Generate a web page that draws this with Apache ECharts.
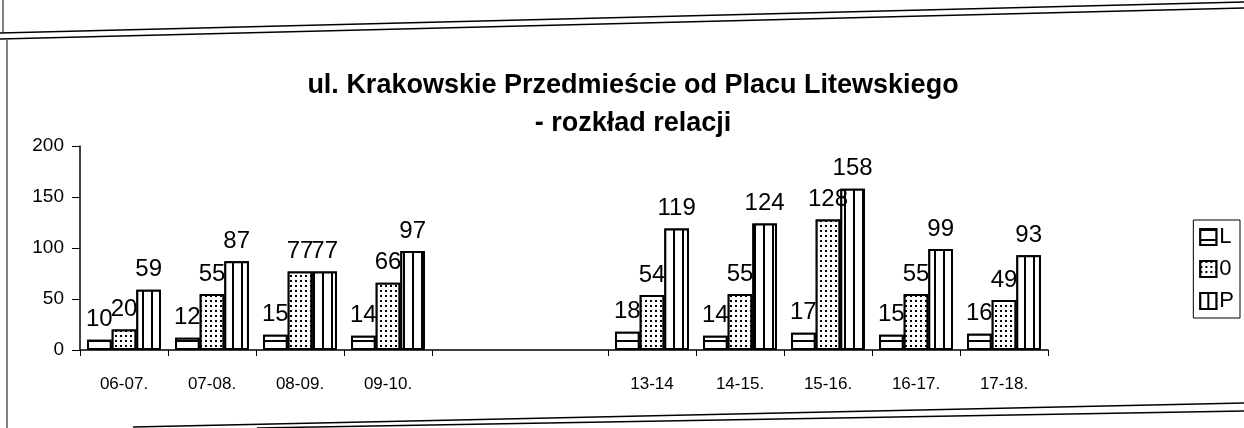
<!DOCTYPE html>
<html lang="pl">
<head>
    <meta charset="UTF-8">
    <title>ul. Krakowskie Przedmieście - rozkład relacji</title>
    <script src="https://cdn.jsdelivr.net/npm/echarts@6/dist/echarts.min.js"></script>
    <style>
        html, body { margin: 0; padding: 0; background: #fff; }
        #main { width: 1244px; height: 428px; }
    </style>
</head>
<body>
<div id="main"></div>
<script>
    // godziny (dwie puste kategorie = przerwa w pomiarach)
    var godziny = ['06-07.', '07-08.', '08-09.', '09-10.', '', '', '13-14', '14-15.', '15-16.', '16-17.', '17-18.'];
    var seriaL = [10, 12, 15, 14, null, null, 18, 14, 17, 15, 16];
    var seria0 = [20, 55, 77, 66, null, null, 54, 55, 128, 55, 49];
    var seriaP = [59, 87, 77, 97, null, null, 119, 124, 158, 99, 93];
    var osY = [0, 50, 100, 150, 200];

    var czcionka = '"Liberation Sans", Arial, sans-serif';

    // wzory wypełnienia słupków
    var wzorL = { symbol: 'rect', symbolSize: 1, color: '#000', backgroundColor: '#fff',
        dashArrayX: [[1, 0]], dashArrayY: [2, 8], rotation: 0 };
    var wzor0 = { symbol: 'rect', symbolSize: 1, color: '#000', backgroundColor: '#fff',
        dashArrayX: [2, 3], dashArrayY: [2, 3], rotation: 0 };
    var wzorP = { symbol: 'rect', symbolSize: 1, color: '#000', backgroundColor: '#fff',
        dashArrayX: [[1, 0]], dashArrayY: [2, 7], rotation: Math.PI / 2 };

    function seria(nazwa, dane, wzor) {
        return {
            name: nazwa,
            type: 'bar',
            data: dane,
            barGap: '0%',
            barCategoryGap: '16%',
            itemStyle: { color: '#fff', borderColor: '#000', borderWidth: 2, decal: wzor },
            label: {
                show: true, position: 'top', distance: 8,
                color: '#000', fontSize: 24, fontFamily: czcionka
            }
        };
    }

    var myChart = echarts.init(document.getElementById('main'));
    var option = {
        backgroundColor: '#fff',
        animation: false,
        title: {
            text: 'ul. Krakowskie Przedmieście od Placu Litewskiego\n- rozkład relacji',
            left: 628,
            textAlign: 'center',
            top: 62,
            textStyle: { fontFamily: czcionka, fontWeight: 'bold', fontSize: 27, color: '#000', lineHeight: 38 }
        },
        legend: {
            orient: 'vertical',
            right: 4,
            top: 220,
            icon: 'rect',
            itemWidth: 16,
            itemHeight: 16,
            itemGap: 10,
            padding: [6, 6, 6, 6],
            borderColor: '#000',
            borderWidth: 1,
            textStyle: { fontFamily: czcionka, fontSize: 22, color: '#000', padding: [0, 0, 0, -2] },
            data: ['L', '0', 'P']
        },
        grid: { left: 80, right: 196, top: 146, bottom: 78 },
        xAxis: {
            type: 'category',
            data: godziny,
            axisLine: { lineStyle: { color: '#000', width: 1.5 } },
            axisTick: {
                show: true, length: 6, inside: false, lineStyle: { color: '#000' },
                interval: function (i) { return i !== 5; }
            },
            axisLabel: { color: '#000', fontSize: 17, fontFamily: czcionka, margin: 26, interval: 0 }
        },
        yAxis: {
            type: 'value',
            min: osY[0],
            max: osY[osY.length - 1],
            interval: 50,
            axisLine: { show: true, lineStyle: { color: '#000', width: 1.5 } },
            axisTick: { show: true, length: 8, lineStyle: { color: '#000' } },
            axisLabel: { color: '#000', fontSize: 19, fontFamily: czcionka, margin: 16 },
            splitLine: { show: false }
        },
        graphic: [
            { type: 'line', shape: { x1: 3, y1: 0, x2: 3, y2: 33 }, style: { stroke: '#000', lineWidth: 1 } },
            { type: 'line', shape: { x1: 0, y1: 33, x2: 1244, y2: 2 }, style: { stroke: '#000', lineWidth: 1.5 } },
            { type: 'line', shape: { x1: 0, y1: 39, x2: 1244, y2: 8 }, style: { stroke: '#000', lineWidth: 1.5 } },
            { type: 'line', shape: { x1: 7, y1: 40, x2: 7, y2: 428 }, style: { stroke: '#000', lineWidth: 1 } },
            { type: 'line', shape: { x1: 133, y1: 427, x2: 1244, y2: 403 }, style: { stroke: '#000', lineWidth: 1.5 } },
            { type: 'line', shape: { x1: 257, y1: 428, x2: 1244, y2: 411 }, style: { stroke: '#000', lineWidth: 1.5 } }
        ],
        series: [
            seria('L', seriaL, wzorL),
            seria('0', seria0, wzor0),
            seria('P', seriaP, wzorP)
        ]
    };
    myChart.setOption(option);
</script>
</body>
</html>
